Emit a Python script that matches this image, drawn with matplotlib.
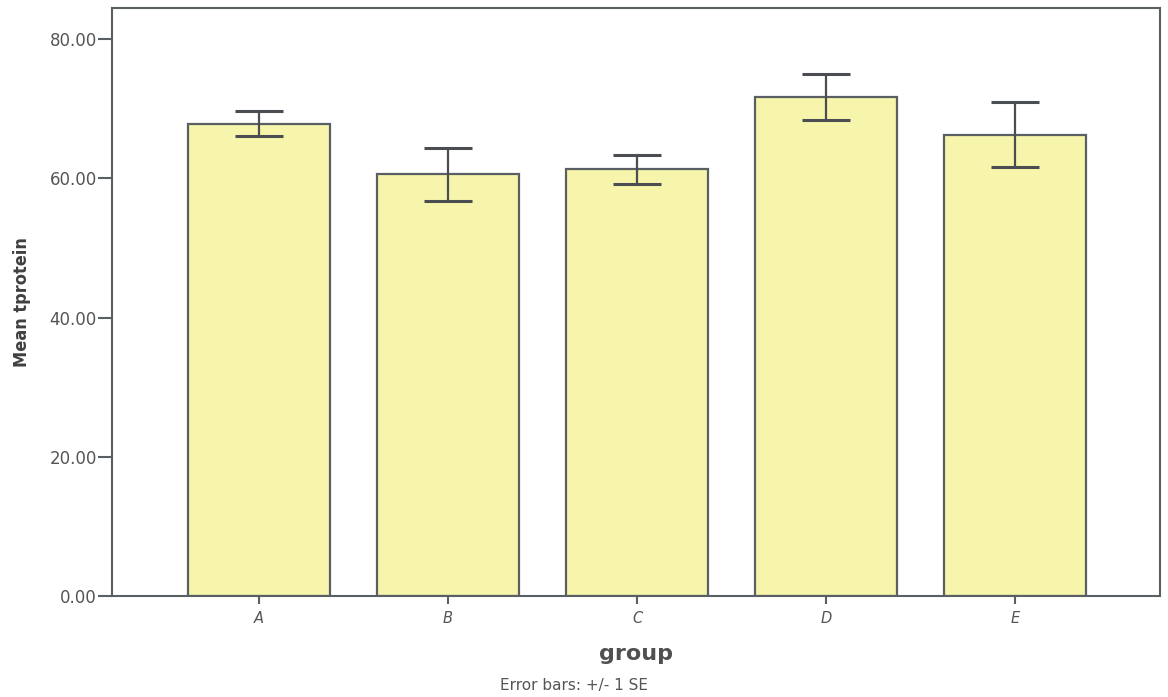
import matplotlib.pyplot as plt
import numpy as np

plt.rcParams['font.family'] = ['DejaVu Sans']

# mean tprotein per group, +/- 1 SE
groups = ['A', 'B', 'C', 'D', 'E']
means = [67.9, 60.6, 61.3, 71.7, 66.3]
se = [1.75, 3.8, 2.1, 3.3, 4.65]
yticks = [0, 20, 40, 60, 80]

edge = '#5a5f63'
fig = plt.figure(figsize=(11.68, 6.97), dpi=100)
ax = fig.add_axes([112 / 1168, 1 - 596 / 697, (1160 - 112) / 1168, (596 - 8) / 697])

x = np.arange(len(groups))
ax.bar(x, means, width=0.75, color='#f6f5ab', edgecolor=edge, linewidth=1.6)
ax.errorbar(x, means, yerr=se, fmt='none', ecolor='#4a4d52', elinewidth=1.6,
            capsize=17, capthick=2.2)

ax.set_xlim(-0.778, 4.767)
ax.set_ylim(0, 84.5)
ax.set_xticks(x)
ax.set_xticklabels(groups, fontstyle='italic', color='#555555', fontsize=10.5)
ax.set_yticks(yticks)
ax.set_yticklabels(['%.2f' % v for v in yticks], color='#555555', fontsize=12)
ax.tick_params(axis='y', length=10, width=1.5, color=edge, pad=1)
ax.tick_params(axis='x', length=6, width=1.5, color=edge, pad=5)
for s in ax.spines.values():
    s.set_color(edge)
    s.set_linewidth(1.5)

ax.set_xlabel('group', fontsize=16, fontweight='bold', color='#505050', labelpad=13)
ax.set_ylabel('Mean tprotein', fontsize=13, fontweight='bold', color='#404040',
              labelpad=13, fontstretch='condensed')
fig.text(574 / 1168, 0.006, 'Error bars: +/- 1 SE', ha='center', va='bottom',
         fontsize=11, color='#555555')

fig.savefig('out.png', dpi=100)
